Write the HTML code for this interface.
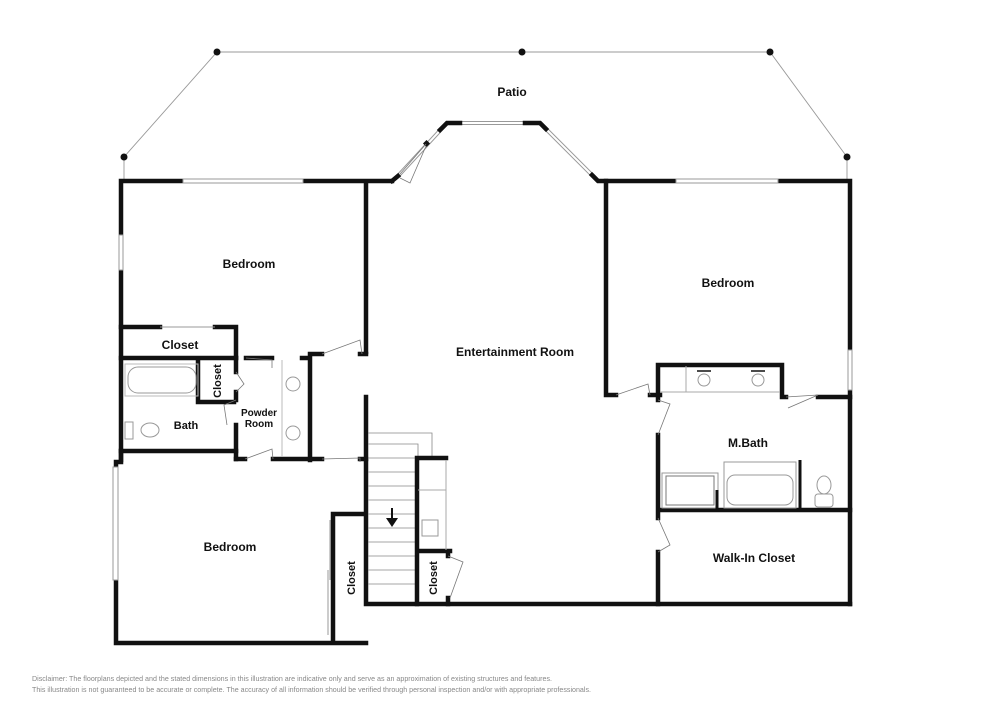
<!DOCTYPE html>
<html><head><meta charset="utf-8"><style>
html,body{margin:0;padding:0;background:#fff;}
svg{display:block;}
text{font-family:"Liberation Sans",Arial,sans-serif;font-weight:bold;fill:#111;}
.w{stroke:#111;stroke-width:4.5;fill:none;stroke-linecap:square;}
.t{stroke:#999;stroke-width:0.9;fill:none;}
.win{stroke:#999;stroke-width:1;fill:#fff;}
.d{stroke:#777;stroke-width:0.8;fill:none;}
</style></head><body>
<svg width="1000" height="707" viewBox="0 0 1000 707" xmlns="http://www.w3.org/2000/svg">
<!-- patio -->
<polyline class="t" points="124,180 124,157 217,52 770,52 847,157 847,180"/>
<g fill="#111"><circle cx="217" cy="52" r="3.5"/><circle cx="522" cy="52" r="3.5"/><circle cx="770" cy="52" r="3.5"/><circle cx="124" cy="157" r="3.5"/><circle cx="847" cy="157" r="3.5"/></g>
<text x="512" y="96" font-size="12" text-anchor="middle">Patio</text>

<!-- left bedroom -->
<path class="w" d="M121,181 H183 M303,181 H392 M121,181 V235 M121,270 V460 M366,181 V352"/>
<rect class="win" x="183" y="179" width="120" height="4"/>
<rect class="win" x="119" y="235" width="4" height="35"/>
<path class="w" d="M121,327 H160 M215,327 H236 V358"/>
<line class="t" x1="160" y1="327" x2="215" y2="327"/>
<path class="w" d="M310,354 H322 M360,354 H366"/>
<path class="d" d="M322,354 L360,340 L362,354"/>
<path class="w" d="M121,358 H236 M246,358 H272 M302,358 H310 V460"/>
<path class="d" d="M246,358 L272,360 L272,368"/>
<path class="w" d="M198,360 V402 H234 M236,358 V372 M236,392 V400 M236,425 V459"/>
<path class="d" d="M236,372 L244,384 L236,392 M236,400 L224,405 L227,425"/>
<path class="w" d="M121,451 H236 M236,459 H245 M273,459 H322 M360,459 H366"/>
<path class="d" d="M245,459 L272,449 L273,459 M322,459 L360,458 L360,462"/>
<!-- fixtures -->
<rect x="128" y="367" width="68" height="26" rx="10" fill="none" stroke="#999"/>
<rect x="125" y="364" width="73" height="32" fill="none" stroke="#bbb"/>
<ellipse cx="150" cy="430" rx="9" ry="7" fill="none" stroke="#999"/><rect x="125" y="422" width="8" height="17" fill="none" stroke="#999"/>
<line x1="282" y1="360" x2="282" y2="457" stroke="#bbb"/>
<ellipse cx="293" cy="384" rx="7" ry="7" fill="none" stroke="#999"/><ellipse cx="293" cy="433" rx="7" ry="7" fill="none" stroke="#999"/>
<text x="180" y="349" font-size="12" text-anchor="middle">Closet</text>
<text transform="translate(221,381) rotate(-90)" font-size="11" text-anchor="middle">Closet</text>
<text x="186" y="429" font-size="11" text-anchor="middle">Bath</text>
<text x="259" y="416" font-size="10" text-anchor="middle">Powder</text>
<text x="259" y="427" font-size="10" text-anchor="middle">Room</text>
<text x="249" y="268" font-size="12" text-anchor="middle">Bedroom</text>

<!-- lower bedroom -->
<path class="w" d="M121,451 V462 H116 V467 M116,580 V643 H366 M333,514 V643 M333,514 H366 M366,397 V604 H850"/>
<rect class="win" x="113" y="467" width="5" height="113"/>
<line x1="330" y1="520" x2="330" y2="580" stroke="#999"/><line x1="328" y1="570" x2="328" y2="635" stroke="#999"/>
<text x="230" y="551" font-size="12" text-anchor="middle">Bedroom</text>
<text transform="translate(355,578) rotate(-90)" font-size="11" text-anchor="middle">Closet</text>

<!-- stairs -->
<g stroke="#888" stroke-width="0.8" fill="none">
<polyline points="368,433 432,433 432,456"/><polyline points="368,444 418,444 418,458"/>
<line x1="368" y1="458" x2="416" y2="458"/><line x1="368" y1="472" x2="416" y2="472"/><line x1="368" y1="486" x2="416" y2="486"/><line x1="368" y1="500" x2="416" y2="500"/><line x1="368" y1="514" x2="416" y2="514"/><line x1="368" y1="528" x2="416" y2="528"/><line x1="368" y1="542" x2="416" y2="542"/><line x1="368" y1="556" x2="416" y2="556"/><line x1="368" y1="570" x2="416" y2="570"/><line x1="368" y1="584" x2="416" y2="584"/>
</g>
<line x1="392" y1="508" x2="392" y2="522" stroke="#111" stroke-width="2"/><polygon points="386,518 398,518 392,527" fill="#111"/>
<path class="w" d="M417,458 V604 M417,458 H446 M417,551 H450 M448,551 V556 M448,598 V604"/>
<line x1="446" y1="460" x2="446" y2="550" stroke="#aaa"/><line x1="418" y1="490" x2="446" y2="490" stroke="#aaa"/>
<rect x="422" y="520" width="16" height="16" fill="none" stroke="#999"/>
<path class="d" d="M448,556 L463,562 L450,598"/>
<text transform="translate(437,578) rotate(-90)" font-size="11" text-anchor="middle">Closet</text>

<!-- top bay -->
<g stroke="#999" stroke-width="4" fill="none"><path d="M398,176 L447,123 H540 L598,181"/></g>
<g stroke="#fff" stroke-width="2" fill="none"><path d="M398,176 L447,123 H540 L598,181"/></g>
<path class="w" d="M392,181 L398,176 M440,130 L447,123 H460 M525,123 H540 L546,129 M592,175 L598,181 H606"/>
<rect x="424" y="141" width="5" height="5" fill="#111" transform="rotate(45 426.5 143.5)"/>
<path class="d" d="M400,174 L426,144 M400,178 L410,183 L426,146"/>
<text x="515" y="356" font-size="12" text-anchor="middle">Entertainment Room</text>

<!-- right bedroom -->
<path class="w" d="M606,181 H676 M778,181 H850 V350 M850,390 V604 M606,181 V395 H616 M650,395 H660"/>
<rect class="win" x="676" y="179" width="102" height="4"/>
<rect class="win" x="848" y="350" width="4" height="40"/>
<path class="d" d="M616,395 L648,384 L650,395"/>
<text x="728" y="287" font-size="12" text-anchor="middle">Bedroom</text>

<!-- m bath -->
<path class="w" d="M658,365 H782 V397 H786 M818,397 H850 M658,365 V400 M658,435 V518 M658,552 V604 M658,510 H850"/>
<path class="d" d="M658,400 L670,404 L658,435 M658,518 L670,545 L658,552 M786,397 L818,395 L788,408"/>
<line x1="660" y1="392" x2="780" y2="392" stroke="#aaa"/><line x1="686" y1="366" x2="686" y2="392" stroke="#aaa"/>
<ellipse cx="704" cy="380" rx="6" ry="6" fill="none" stroke="#999"/><ellipse cx="758" cy="380" rx="6" ry="6" fill="none" stroke="#999"/>
<path stroke="#111" stroke-width="1.5" d="M697,371 H711 M751,371 H765"/>
<rect x="662" y="473" width="56" height="35" fill="none" stroke="#999"/><rect x="666" y="476" width="48" height="29" fill="none" stroke="#777"/>
<rect x="724" y="462" width="72" height="46" fill="none" stroke="#999"/><rect x="727" y="475" width="66" height="30" rx="8" fill="none" stroke="#999"/>
<line x1="717" y1="490" x2="717" y2="510" stroke="#111" stroke-width="3"/><line x1="800" y1="460" x2="800" y2="510" stroke="#111" stroke-width="3"/>
<ellipse cx="824" cy="485" rx="7" ry="9" fill="none" stroke="#999"/><rect x="815" y="494" width="18" height="13" rx="3" fill="none" stroke="#999"/>
<text x="748" y="447" font-size="12" text-anchor="middle">M.Bath</text>
<text x="754" y="562" font-size="12" text-anchor="middle">Walk-In Closet</text>

<text x="32" y="681" font-size="7.1" textLength="520" style="font-weight:normal;fill:#888">Disclaimer: The floorplans depicted and the stated dimensions in this illustration are indicative only and serve as an approximation of existing structures and features.</text>
<text x="32" y="692" font-size="7.1" textLength="559" style="font-weight:normal;fill:#888">This illustration is not guaranteed to be accurate or complete. The accuracy of all information should be verified through personal inspection and/or with appropriate professionals.</text>
</svg>
</body></html>
